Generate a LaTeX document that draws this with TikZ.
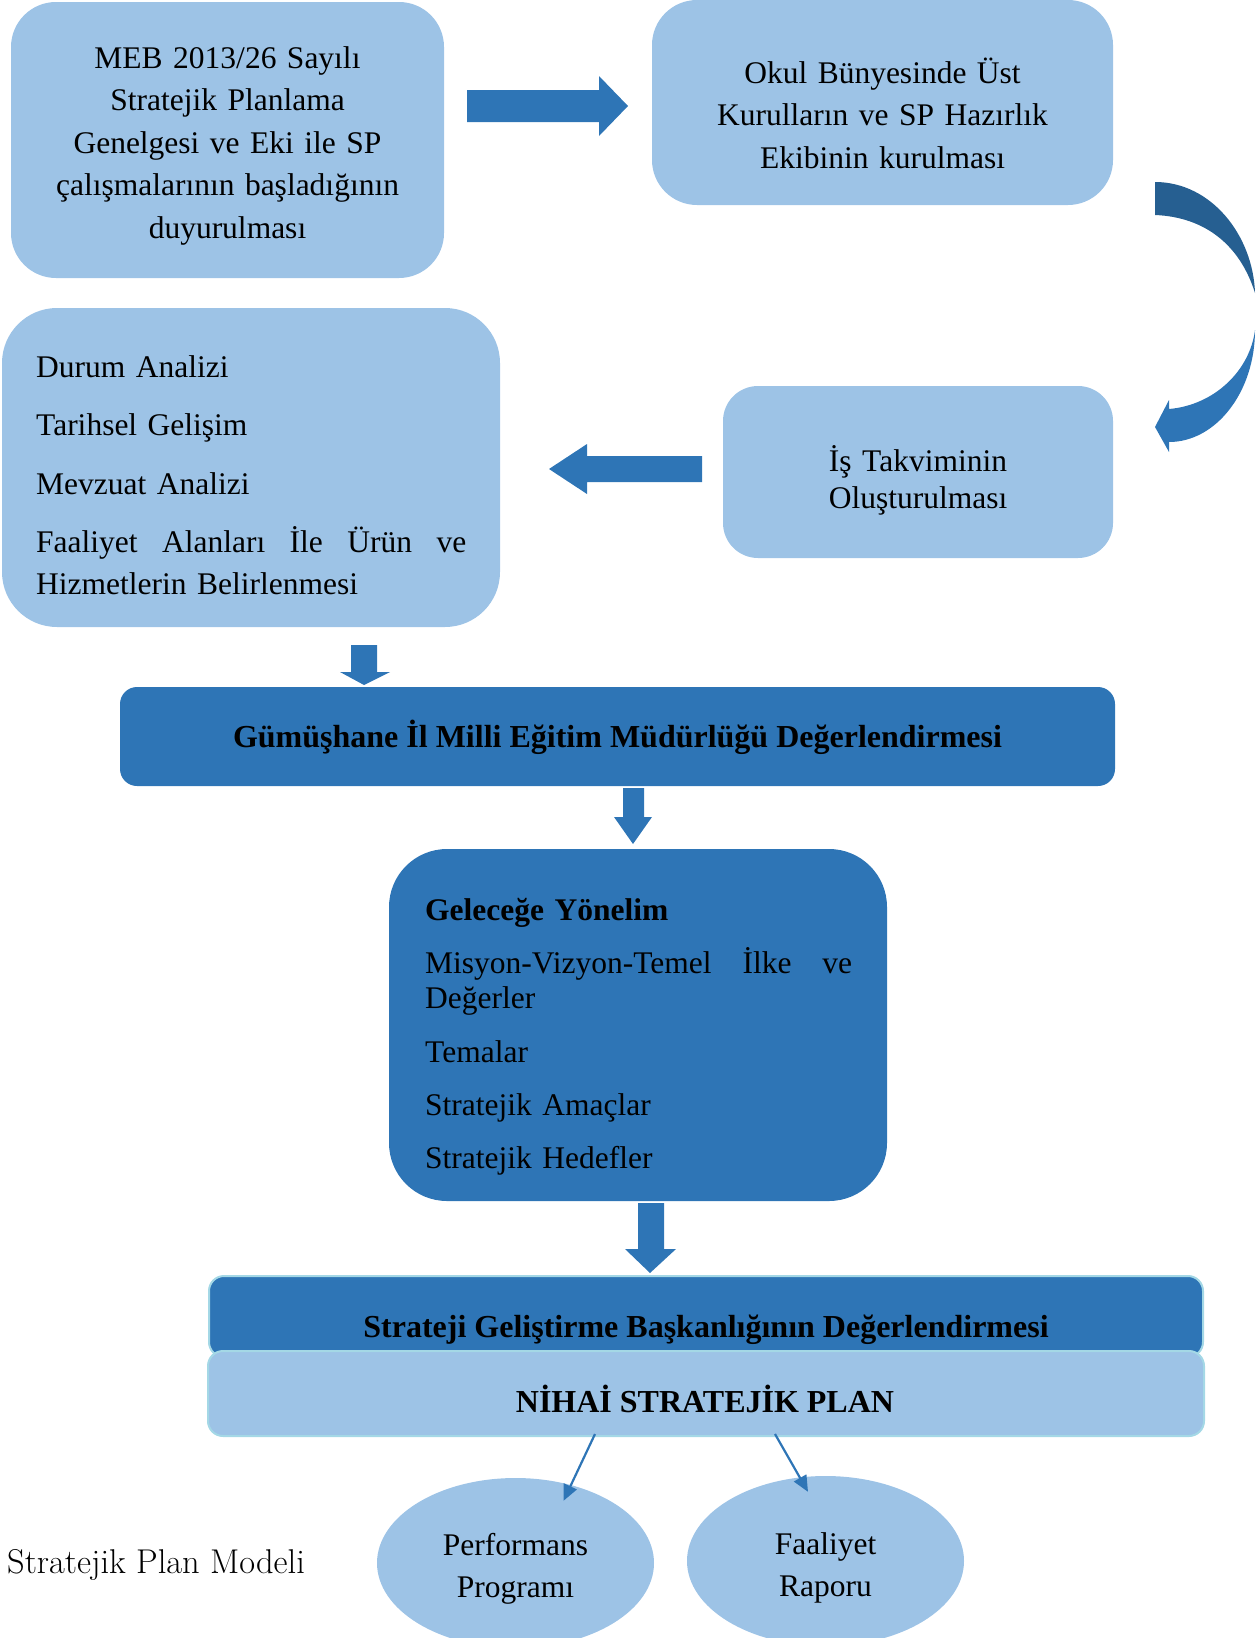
\documentclass[tikz,border=0pt]{standalone}
\usepackage{fontspec}
\newfontfamily\timesfont{Liberation Serif}
\usetikzlibrary{shapes.geometric,arrows.meta}
\definecolor{lightblue}{HTML}{9DC3E6}
\definecolor{midblue}{HTML}{2E75B6}
\definecolor{darkblue}{HTML}{265F91}
\definecolor{rimcyan}{HTML}{A4D8E6}
\tikzset{
  panel/.style={fill=lightblue, inner sep=0pt},
  darkpanel/.style={fill=midblue, inner sep=0pt},
  boxtext/.style={inner sep=0pt, font=\timesfont\fontsize{31.5}{42.5}\selectfont},
  bartext/.style={inner sep=0pt, anchor=base, font=\timesfont\bfseries\fontsize{32}{38}\selectfont},
  oval/.style={ellipse, fill=lightblue, inner sep=0pt, minimum width=277pt, minimum height=170pt, align=center,
    font=\timesfont\fontsize{31.5}{42}\selectfont},
  thinarrow/.style={draw=midblue, line width=2.2pt, -{Triangle[length=16pt,width=14pt]}}
}
\begin{document}
\begin{tikzpicture}[x=1pt,y=-1pt]
\useasboundingbox (0,0) rectangle (1257,1638);

\node[panel, rounded corners=45pt, minimum width=433pt, minimum height=276pt] (meb) at (227.5,140) {};
\node[panel, rounded corners=45pt, minimum width=461pt, minimum height=205pt] (okul) at (882.5,102.5) {};
\node[panel, rounded corners=55pt, minimum width=498pt, minimum height=319pt] (durum) at (251,467.5) {};
\node[panel, rounded corners=35pt, minimum width=390pt, minimum height=172pt] (takvim) at (918,472) {};
\node[darkpanel, rounded corners=17pt, minimum width=995pt, minimum height=99pt] (gum) at (617.5,736.5) {};
\node[darkpanel, rounded corners=58pt, minimum width=498pt, minimum height=352pt] (future) at (638,1025) {};
\node[darkpanel, draw=rimcyan, line width=2pt, rounded corners=15pt, minimum width=994pt, minimum height=81pt] (sgb) at (706,1316.5) {};
\node[panel, draw=rimcyan, line width=2pt, rounded corners=15pt, minimum width=996pt, minimum height=85pt] (plan) at (706,1393.5) {};

\node[boxtext, anchor=base, text width=420pt, align=center] (mebtext) at (227.5,68)
  {MEB 2013/26 Sayılı\\Stratejik Planlama\\Genelgesi ve Eki ile SP\\çalışmalarının başladığının\\duyurulması};
\node[boxtext, anchor=base, text width=440pt, align=center] (okultext) at (882.5,83)
  {Okul Bünyesinde Üst\\Kurulların ve SP Hazırlık\\Ekibinin kurulması};
\node[boxtext, anchor=base, text width=360pt, align=center, font=\timesfont\fontsize{31.5}{37}\selectfont] (takvimtext) at (918,471)
  {İş Takviminin\\Oluşturulması};
\node[boxtext, anchor=base west, text width=430pt, align=left, font=\timesfont\fontsize{31.5}{42}\selectfont] (durumtext) at (36,377)
  {Durum Analizi\par\vspace{16.5pt}
   Tarihsel Gelişim\par\vspace{16.5pt}
   Mevzuat Analizi\par\vspace{16.5pt}
   Faaliyet\hfill Alanları\hfill İle\hfill Ürün\hfill ve\par
   Hizmetlerin Belirlenmesi};
\node[boxtext, anchor=base west, text width=427pt, align=left, font=\timesfont\fontsize{31.5}{35}\selectfont] (futuretext) at (425,920)
  {\textbf{Geleceğe Yönelim}\par\vspace{18pt}
   Misyon-Vizyon-Temel\hfill İlke\hfill ve\par
   Değerler\par\vspace{19pt}
   Temalar\par\vspace{18pt}
   Stratejik Amaçlar\par\vspace{18pt}
   Stratejik Hedefler};
\node[bartext] (gumtext) at (617.5,747) {Gümüşhane İl Milli Eğitim Müdürlüğü Değerlendirmesi};
\node[bartext] (sgbtext) at (706,1337) {Strateji Geliştirme Başkanlığının Değerlendirmesi};
\node[bartext] (plantext) at (705,1412) {NİHAİ STRATEJİK PLAN};

\node[oval] (perf) at (515.5,1563) {\rule{0pt}{33pt}Performans\\Programı};
\node[oval] (fact) at (825.5,1561) {\rule{0pt}{35pt}Faaliyet\\Raporu};
\node[anchor=base west, inner sep=0pt, font=\fontsize{34.4}{40}\selectfont] (model) at (7,1573) {Stratejik Plan Modeli};

\fill[midblue] (467,90) -- (599,90) -- (599,76) -- (628,106) -- (599,136) -- (599,122) -- (467,122) -- cycle;
\fill[midblue] (702,456) -- (587,456) -- (587,444) -- (549,469) -- (587,494) -- (587,482) -- (702,482) -- cycle;
\fill[darkblue] (1155,182) .. controls (1211,182) and (1253,235) .. (1255,293)
  .. controls (1240,245) and (1205,217) .. (1155,215) -- cycle;
\fill[midblue] (1255,330) .. controls (1255,392) and (1216,442) .. (1169,442) -- (1169,452) -- (1155,427)
  -- (1169,400) -- (1169,409) .. controls (1215,405) and (1250,370) .. (1255,330) -- cycle;
\fill[midblue] (351,645) -- (377,645) -- (377,672) -- (390,672) -- (364,685) -- (340,672) -- (351,672) -- cycle;
\fill[midblue] (623,788) -- (644,788) -- (644,817) -- (652,817) -- (633,844) -- (614,817) -- (623,817) -- cycle;
\fill[midblue] (638,1203) -- (664,1203) -- (664,1249) -- (676,1249) -- (650,1273) -- (625,1249) -- (638,1249) -- cycle;

\draw[thinarrow] ([xshift=-111pt,yshift=3pt]plan.south) -- ([shift={(48,23)}]perf.north);
\draw[thinarrow] ([xshift=69pt,yshift=3pt]plan.south) -- ([shift={(-17.5,16)}]fact.north);
\end{tikzpicture}
\end{document}
